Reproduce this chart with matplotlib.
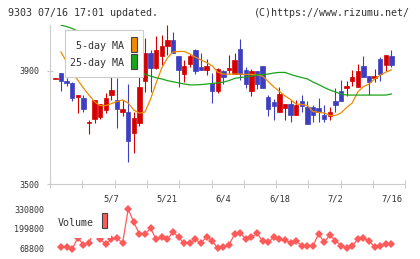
import numpy as np
import matplotlib
matplotlib.use("Agg")
import matplotlib.pyplot as plt
from matplotlib.patches import Rectangle

plt.rcParams["font.family"] = ["DejaVu Sans Mono"]

# trading days: index -1 = 4/18 ... index 59 = 7/16
day_index = list(range(-1, 60))

opens = [3873, 3892, 3866, 3857, 3807, 3804, 3715, 3729, 3738, 3762,
         3815, 3798, 3756, 3755, 3682, 3715, 3865, 3962, 3912, 3953,
         3988, 4009, 3953, 3890, 3926, 3974, 3914, 3904, 3857, 3829,
         3900, 3904, 3888, 3978, 3904, 3830, 3900, 3918, 3808, 3791,
         3755, 3769, 3784, 3746, 3794, 3773, 3773, 3769, 3745, 3741,
         3794, 3829, 3841, 3865, 3845, 3918, 3882, 3876, 3942, 3922,
         3953]
highs = [3875, 3892, 3875, 3861, 3815, 3815, 3727, 3798, 3783, 3822,
         3880, 3875, 3798, 3854, 3755, 3886, 4016, 3974, 4024, 4027,
         4062, 4038, 3953, 3939, 3959, 3978, 3964, 3941, 3892, 3910,
         3904, 3956, 3962, 4013, 3915, 3907, 3900, 3918, 3815, 3800,
         3845, 3784, 3798, 3798, 3815, 3794, 3780, 3805, 3780, 3773,
         3840, 3868, 3865, 3904, 3926, 3953, 3882, 3907, 3949, 3956,
         3974]
lows = [3873, 3829, 3847, 3794, 3753, 3755, 3679, 3715, 3729, 3753,
        3798, 3698, 3741, 3580, 3609, 3706, 3827, 3827, 3906, 3921,
        3956, 3965, 3845, 3861, 3915, 3890, 3904, 3887, 3788, 3821,
        3853, 3888, 3888, 3868, 3841, 3813, 3838, 3841, 3741, 3727,
        3755, 3727, 3721, 3746, 3755, 3714, 3721, 3721, 3721, 3727,
        3755, 3794, 3812, 3847, 3845, 3880, 3815, 3862, 3866, 3901,
        3915]
closes = [3875, 3865, 3856, 3806, 3815, 3766, 3720, 3798, 3783, 3804,
          3833, 3765, 3766, 3654, 3733, 3845, 3962, 3912, 3974, 3988,
          4009, 3965, 3904, 3918, 3953, 3900, 3904, 3918, 3830, 3906,
          3880, 3910, 3939, 3888, 3855, 3900, 3855, 3841, 3767, 3776,
          3819, 3784, 3746, 3780, 3776, 3714, 3746, 3755, 3732, 3755,
          3780, 3794, 3847, 3880, 3901, 3880, 3862, 3882, 3890, 3956,
          3922]

ma5 = [np.nan, 3967, 3932, 3896, 3868, 3840, 3815, 3791, 3778, 3778,
       3785, 3792, 3798, 3787, 3762, 3751, 3755, 3801, 3858, 3911,
       3946, 3967, 3969, 3969, 3960, 3949, 3939, 3930, 3918, 3896,
       3889, 3889, 3889, 3889, 3888, 3888, 3886, 3882, 3863, 3844,
       3828, 3812, 3799, 3783, 3782, 3778, 3757, 3754, 3752, 3743,
       3743, 3752, 3771, 3787, 3826, 3845, 3854, 3872, 3885, 3896,
       3904]
ma25 = [np.nan, 4062, 4057, 4050, 4041, 4031, 4020, 4009, 3999, 3985,
        3971, 3956, 3942, 3928, 3914, 3900, 3888, 3882, 3876, 3872,
        3866, 3862, 3858, 3854, 3851, 3851, 3852, 3854, 3856, 3858,
        3861, 3866, 3874, 3877, 3879, 3882, 3886, 3888, 3889, 3893,
        3895, 3895, 3888, 3882, 3877, 3872, 3861, 3852, 3842, 3833,
        3826, 3819, 3815, 3815, 3815, 3815, 3815, 3815, 3815, 3815,
        3819]

volume = [np.nan, 83900, 83900, 66800, 144000, 95000, 110100, 193000, 132300, 101500,
          132300, 142800, 106100, 330800, 243700, 167000, 167000, 204400, 132300, 145400,
          132300, 182100, 145400, 106100, 106100, 132300, 106100, 149400, 121200, 73400,
          80000, 95000, 167000, 175600, 132300, 145400, 171600, 121200, 112700, 145400,
          132300, 127700, 110100, 121200, 90400, 90400, 90400, 167000, 112700, 160500,
          123200, 90400, 77300, 90400, 132300, 138900, 123200, 80000, 90400, 99600,
          99600]

date_labels = ["5/7", "5/21", "6/4", "6/18", "7/2", "7/16"]
date_pos = [9, 19, 29, 39, 49, 59]
price_ticks = [3500, 3900]
volume_ticks = [68800, 199800, 330800]

RED = "#d40000"
BLUE = "#3d3fc0"
ORANGE = "#f08a00"
GREEN = "#19a519"
VOLC = "#ff5a5a"
GRAY = "#cccccc"
TXT = "#333333"

W, H = 420, 259
fig = plt.figure(figsize=(W / 100, H / 100), dpi=100)


def fx(x):
    return x / W


def fy(y):
    return 1 - y / H


ax = fig.add_axes([fx(50), fy(184.3), (405.3 - 50) / W, (184.3 - 25) / H])
axv = fig.add_axes([fx(50), fy(253), (405.3 - 50) / W, (253 - 205) / H])

xlo, xhi = -1.96, 61.48

# candles
o = np.array(opens, float)
c = np.array(closes, float)
up = c >= o
cols = [RED if u else BLUE for u in up]
ax.vlines(day_index, lows, highs, colors=cols, lw=0.8, zorder=2)
ax.bar(day_index, np.abs(c - o), bottom=np.minimum(o, c), width=0.8,
       color=cols, edgecolor=cols, linewidth=0.5, zorder=3)

ax.plot(day_index, ma5, color=ORANGE, lw=0.9, zorder=4)
ax.plot(day_index, ma25, color=GREEN, lw=0.9, zorder=4)

ax.set_xlim(xlo, xhi)
ax.set_ylim(3500, 4062.4)
for s in ["top", "right"]:
    ax.spines[s].set_visible(False)
for s in ["left", "bottom"]:
    ax.spines[s].set_color(GRAY)
    ax.spines[s].set_linewidth(0.8)

ax.set_yticks(price_ticks)
ax.set_yticklabels([str(v) for v in price_ticks])
ax.tick_params(axis="y", direction="inout", length=5, width=0.8, color=GRAY,
               labelsize=6, labelcolor=TXT, pad=5)
ax.set_xticks(np.linspace(xlo, xhi, 12))
ax.set_xticklabels([])
ax.tick_params(axis="x", which="major", direction="inout", length=6, width=0.8,
               color=GRAY)
ax.set_xticks(date_pos, minor=True)
ax.set_xticklabels(date_labels, minor=True)
ax.tick_params(axis="x", which="minor", length=0, labelsize=6.3,
               labelcolor=TXT, pad=7)

# volume
axv.plot(day_index, volume, color=VOLC, lw=0.9, marker="D", ms=3.6,
         markeredgewidth=0)
axv.set_xlim(xlo, xhi)
axv.set_ylim(42600, 357000)
for s in axv.spines.values():
    s.set_visible(False)
axv.set_xticks([])
axv.set_yticks(volume_ticks)
axv.set_yticklabels([str(v) for v in volume_ticks])
axv.tick_params(axis="y", length=0, labelsize=6, labelcolor=TXT, pad=4.3)


def px_rect(x0, y0, x1, y1, **kw):
    fig.add_artist(Rectangle((fx(x0), fy(y1)), (x1 - x0) / W, (y1 - y0) / H,
                             transform=fig.transFigure, **kw))


# price legend
px_rect(65, 30, 143.3, 76.7, facecolor="white", edgecolor=GRAY, lw=0.8, zorder=5)
px_rect(131, 37.3, 137.3, 52.3, facecolor=ORANGE, edgecolor="#444444", lw=0.8, zorder=6)
px_rect(131, 54, 137.3, 69.3, facecolor=GREEN, edgecolor="#444444", lw=0.8, zorder=6)
fig.text(fx(124.5), fy(46), "5-day MA", ha="right", va="center", fontsize=7.2,
         color=TXT, zorder=7)
fig.text(fx(124.5), fy(62.5), "25-day MA", ha="right", va="center", fontsize=7.2,
         color=TXT, zorder=7)

# volume legend
px_rect(53, 205, 111, 237.5, facecolor="white", edgecolor="none", zorder=5)
px_rect(101.7, 213, 107.3, 228, facecolor=VOLC, edgecolor="#444444", lw=0.8, zorder=6)
fig.text(fx(58), fy(222.5), "Volume", ha="left", va="center", fontsize=7.2,
         color=TXT, zorder=7)

# header
fig.text(fx(8), fy(12.5), "9303 07/16 17:01 updated.", ha="left", va="center",
         fontsize=7.2, color=TXT)
fig.text(fx(410), fy(12.5), "(C)https://www.rizumu.net/", ha="right", va="center",
         fontsize=7.2, color=TXT)

fig.savefig("out.png", dpi=100, facecolor="white")
